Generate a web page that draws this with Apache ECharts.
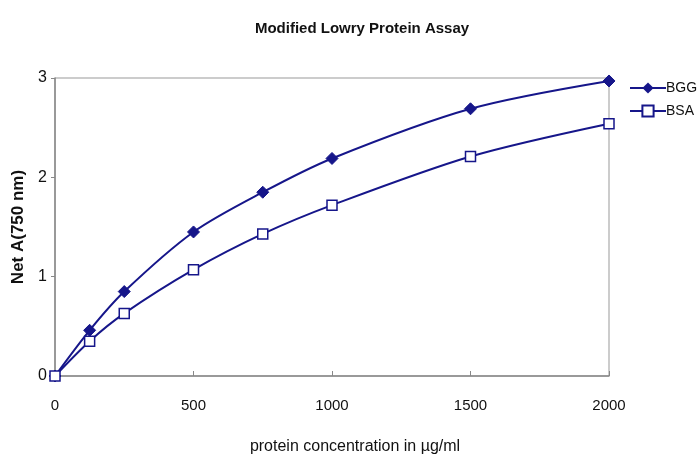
<!DOCTYPE html>
<html><head><meta charset="utf-8">
<script src="https://cdn.jsdelivr.net/npm/echarts@6/dist/echarts.min.js"></script>
<style>html,body{margin:0;padding:0;background:#fff}#c{width:699px;height:460px}</style>
</head><body><div id="c"></div>
<script>
const concentrations = [0, 125, 250, 500, 750, 1000, 1500, 2000];
const bgg = [0, 0.46, 0.85, 1.45, 1.85, 2.19, 2.69, 2.97];
const bsa = [0, 0.35, 0.63, 1.07, 1.43, 1.72, 2.21, 2.54];
const xTicks = [0, 500, 1000, 1500, 2000];
const yTicks = [0, 1, 2, 3];

const navy = '#16168a';
const font = '"Liberation Sans Narrow", "Liberation Sans", Arial, sans-serif';
const chart = echarts.init(document.getElementById('c'));
chart.setOption({
  animation: false,
  backgroundColor: '#fff',
  title: {
    text: 'Modified Lowry Protein Assay', left: 357, top: 16, textAlign: 'center',
    textStyle: { fontFamily: font, fontWeight: 'bold', fontSize: 15, color: '#111' }
  },
  legend: {
    orient: 'vertical', left: 624, top: 76, itemGap: 9, itemWidth: 36, itemHeight: 14,
    textStyle: { fontFamily: font, fontSize: 14, color: '#111', padding: [0, 0, 0, -5] },
    data: ['BGG', 'BSA']
  },
  grid: { left: 55, right: 90, top: 78, bottom: 81, show: true, borderColor: '#999', borderWidth: 1 },
  xAxis: {
    type: 'value', min: 0, max: 2000, interval: 500,
    name: 'protein concentration in µg/ml', nameLocation: 'middle', nameGap: 63,
    nameTextStyle: { fontFamily: font, fontSize: 16, color: '#111', padding: [0, 0, 0, 46] },
    axisLine: { lineStyle: { color: '#888', width: 1.5 } },
    axisTick: { inside: true, length: 5, lineStyle: { color: '#888' } },
    axisLabel: { fontFamily: font, fontSize: 15, color: '#111', margin: 22,
      formatter: v => xTicks.includes(v) ? String(v) : '' },
    splitLine: { show: false }
  },
  yAxis: {
    type: 'value', min: 0, max: 3, interval: 1,
    name: 'Net A(750 nm)', nameLocation: 'middle', nameGap: 28,
    nameTextStyle: { fontFamily: 'Liberation Sans, Arial, sans-serif', fontWeight: 'bold', fontSize: 17, color: '#111' },
    axisLine: { show: true, lineStyle: { color: '#888', width: 1.5 } },
    axisTick: { show: true, length: 4, lineStyle: { color: '#888' } },
    axisLabel: { fontFamily: font, fontSize: 16, color: '#111', margin: 8,
      formatter: v => yTicks.includes(v) ? String(v) : '' },
    splitLine: { show: false }
  },
  series: [
    { name: 'BGG', type: 'line', smooth: 0.3, data: concentrations.map((c, i) => [c, bgg[i]]),
      symbol: 'diamond', symbolSize: 12, color: navy,
      lineStyle: { color: navy, width: 2 }, itemStyle: { color: navy, borderColor: navy } },
    { name: 'BSA', type: 'line', smooth: 0.3, data: concentrations.map((c, i) => [c, bsa[i]]),
      symbol: 'rect', symbolSize: 10, color: navy,
      lineStyle: { color: navy, width: 2 }, itemStyle: { color: '#fff', borderColor: navy, borderWidth: 1.5 } }
  ]
});
</script></body></html>
